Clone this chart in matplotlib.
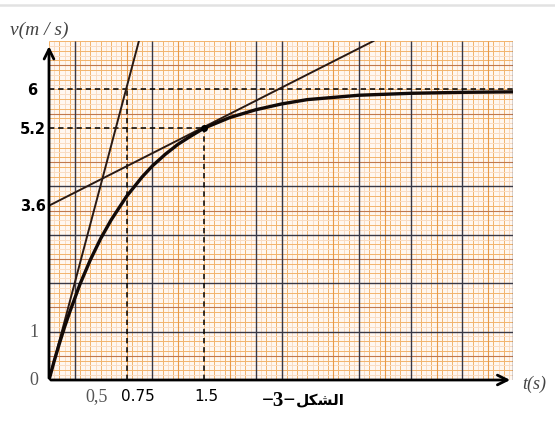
import numpy as np
import matplotlib.pyplot as plt
from matplotlib.lines import Line2D

# curve v(t)
t_curve = [0, 0.05, 0.1, 0.15, 0.2, 0.3, 0.4, 0.5, 0.6, 0.75, 0.9, 1.0, 1.125, 1.25,
           1.375, 1.5, 1.75, 2.0, 2.25, 2.5, 3.0, 3.5, 4.0, 4.49]
v_curve = [0, 0.39, 0.75, 1.09, 1.40, 1.98, 2.48, 2.92, 3.30, 3.79, 4.19, 4.42, 4.66, 4.87,
           5.04, 5.2, 5.42, 5.58, 5.70, 5.79, 5.88, 5.92, 5.94, 5.95]

# tangent lines (end points)
tan0_t = [0, 0.87]
tan0_v = [0, 7.0]
tan1_t = [0, 3.14]
tan1_v = [3.6, 7.0]

# marked values
v_marks = [6, 5.2, 3.6]
v_mark_labels = ["6", "5.2", "3.6"]
t_marks = [0.75, 1.5]
t_mark_labels = ["0.75", "1.5"]

TMAX, VMAX = 4.49, 7.0

fig = plt.figure(figsize=(5.55, 4.27), dpi=100)
ax = fig.add_axes([49 / 555, 46 / 427, 464 / 555, 339 / 427])
ax.set_xlim(0, TMAX)
ax.set_ylim(0, VMAX)
ax.set_facecolor("#fff7f0")
for s in ax.spines.values():
    s.set_visible(False)
ax.set_xticks([])
ax.set_yticks([])

# graph paper
fine_x = np.arange(0, TMAX, 0.05)
fine_y = np.arange(0, VMAX + 0.01, 0.1)
ax.vlines(fine_x[1::2], 0, VMAX, color="#f9dcc2", lw=0.7, zorder=1)
ax.vlines(fine_x[::2], 0, VMAX, color="#f2b36c", lw=0.7, zorder=1)
ax.hlines(fine_y[1::2], 0, TMAX, color="#f9dcc2", lw=0.7, zorder=1)
ax.hlines(fine_y[::2], 0, TMAX, color="#f2b36c", lw=0.7, zorder=1)
ax.vlines(np.arange(0.25, TMAX, 0.5), 0, VMAX, color="#e89a48", lw=0.8, zorder=1)
ax.hlines(np.arange(0.5, VMAX, 1.0), 0, TMAX, color="#c0784e", lw=0.8, zorder=1)
ax.vlines([0.25, 1, 2, 2.25, 3, 3.5, 4, TMAX], 0, VMAX, color="#383846", lw=1.0, zorder=2)
ax.hlines([1, 2, 3, 4], 0, TMAX, color="#383846", lw=1.0, zorder=2)

# dashed guides
dash = dict(color="black", lw=1.1, ls=(0, (3.5, 2.5)), zorder=4)
ax.plot([0, TMAX], [6, 6], **dash)
ax.plot([0, 1.5], [5.2, 5.2], **dash)
ax.plot([1.5, 1.5], [0, 5.2], **dash)
ax.plot([0.75, 0.75], [0, 6], **dash)

# tangents and curve
ax.plot(tan0_t, tan0_v, color="#2a1a14", lw=1.4, zorder=5)
ax.plot(tan1_t, tan1_v, color="#2a1a14", lw=1.4, zorder=5)
ax.plot(t_curve, v_curve, color="#120a08", lw=2.4, zorder=6, solid_capstyle="round")
ax.plot([1.5], [5.2], "o", color="black", ms=4, zorder=7)

# axes with arrows
ax.annotate("", xy=(0, 6.95), xytext=(0, -0.02), annotation_clip=False,
            arrowprops=dict(arrowstyle="->,head_length=0.7,head_width=0.35", lw=2, color="black"), zorder=8)
ax.annotate("", xy=(TMAX, 0), xytext=(-0.01, 0), annotation_clip=False,
            arrowprops=dict(arrowstyle="->,head_length=0.7,head_width=0.35", lw=2, color="black"), zorder=8)

# labels
for v, lab in zip(v_marks, v_mark_labels):
    xx = -0.11 if lab == "6" else -0.03
    ax.text(xx, v, lab, ha="right", va="center", fontsize=10.5, fontweight="bold",
            family="DejaVu Sans", clip_on=False)
ax.text(-0.1, 1, "1", ha="right", va="center", fontsize=13, color="#555555", family="Liberation Serif")
ax.text(-0.1, 0, "0", ha="right", va="center", fontsize=13, color="#555555", family="Liberation Serif")
ax.text(0.46, -0.33, "0,5", ha="center", va="center", fontsize=13, color="#555555", family="Liberation Serif")
for t, lab in zip(t_marks, t_mark_labels):
    ax.text(t + 0.11 if lab == "0.75" else t + 0.02, -0.31, lab, ha="center", va="center",
            fontsize=11, family="DejaVu Sans")

fig.text(279 / 555, 1 - 401 / 427, "\u22123\u2212", ha="center", va="center",
         fontsize=15, fontweight="bold", family="Liberation Serif")
fig.text(320 / 555, 1 - 401 / 427, "\uFEDE\uFEDC\uFEB8\uFEDF\uFE8D", ha="center", va="center",
         fontsize=11, fontweight="bold", family="DejaVu Sans")
fig.text(534 / 555, 1 - 384 / 427, "t(s)", ha="center", va="center", fontsize=13,
         style="italic", color="#444444", family="Liberation Serif")
fig.text(39 / 555, 1 - 30 / 427, "v(m / s)", ha="center", va="center", fontsize=14,
         style="italic", color="#444444", family="Liberation Serif")

fig.add_artist(Line2D([0, 1], [1 - 6 / 427, 1 - 6 / 427], color="#e2e2e2", lw=1.8))

fig.savefig("out.png", dpi=100)
